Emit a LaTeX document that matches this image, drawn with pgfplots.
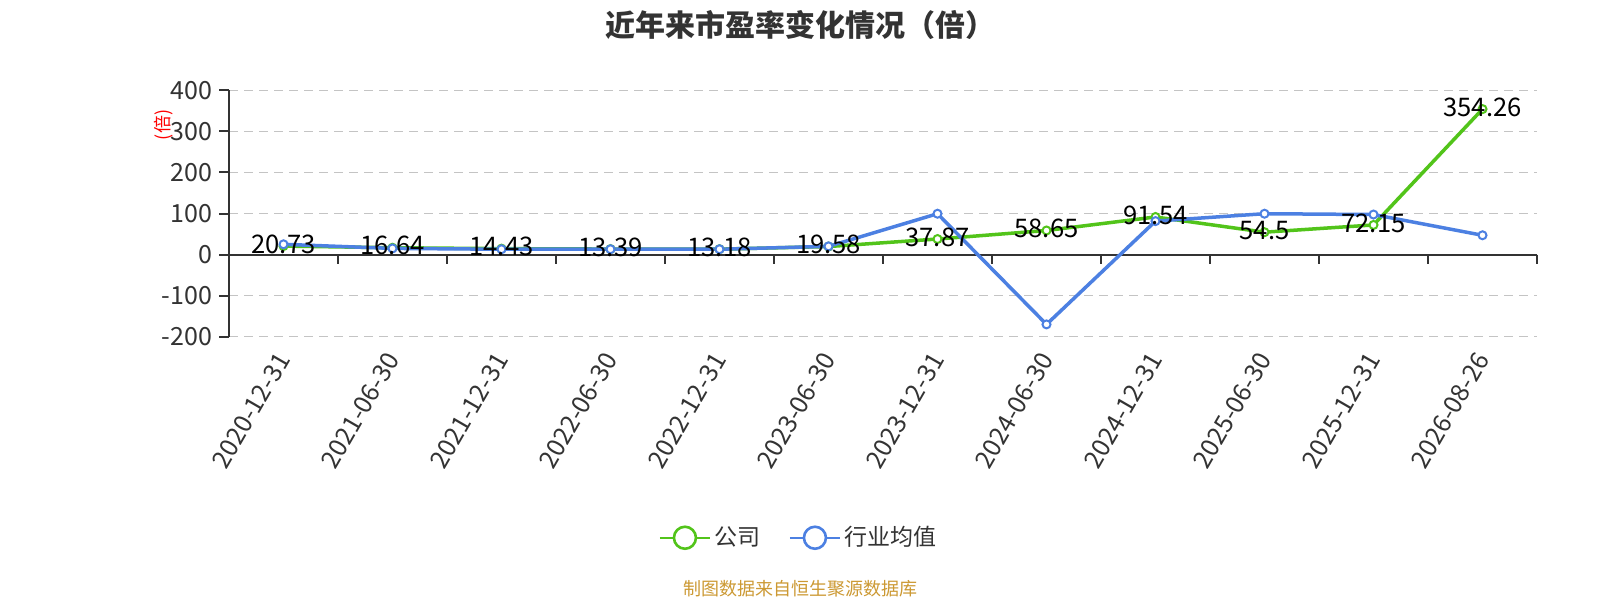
\documentclass[border=0pt]{standalone}
\usepackage{fontspec}
\setmainfont{Noto Sans CJK SC}
\usepackage{pgfplots}
\pgfplotsset{compat=1.18}
\usepackage{pgfplotstable}
\definecolor{cgreen}{RGB}{82,196,26}
\definecolor{cblue}{RGB}{76,128,226}
\definecolor{ctext}{RGB}{51,51,51}
\definecolor{cgrid}{RGB}{196,196,196}
\definecolor{cfoot}{RGB}{204,153,51}

\pgfplotstableread{
x company industry label
0 20.73 25 20.73
1 16.64 15 16.64
2 14.43 13 14.43
3 13.39 13 13.39
4 13.18 13 13.18
5 19.58 20 19.58
6 37.87 99.5 37.87
7 58.65 -170 58.65
8 91.54 81.5 91.54
9 54.5 99.5 54.5
10 72.15 97.5 72.15
11 354.26 47 354.26
}\data

\begin{document}
\begin{tikzpicture}
\path[use as bounding box, fill=white] (0,0) rectangle (800pt,300pt);
\begin{axis}[
  at={(114.5pt,131.65pt)}, anchor=south west, scale only axis,
  width=654pt, height=123.2pt,
  xmin=-0.5, xmax=11.5, ymin=-200, ymax=400,
  axis y line*=left, axis x line*=bottom,
  x axis line style={draw=none},
  y axis line style={ctext, line width=1pt, -},
  xtick={0,...,11},
  xticklabels={2020-12-31,2021-06-30,2021-12-31,2022-06-30,2022-12-31,2023-06-30,2023-12-31,2024-06-30,2024-12-31,2025-06-30,2025-12-31,2026-08-26},
  xtick style={draw=none},
  ytick={-200,-100,...,400},
  ytick style={ctext, line width=1pt},
  tick align=outside, major tick length=5pt,
  ymajorgrids, grid style={cgrid, line width=0.75pt, dash pattern=on 4.5pt off 3pt},
  /pgf/number format/assume math mode=true,
  ticklabel style={font=\fontsize{12.5}{14}\selectfont, text=ctext},
  xticklabel style={rotate=60, anchor=east, inner sep=0pt},
  xticklabel shift=4pt,
  legend style={at={(0.4365,-0.816)}, anchor=center, draw=none, fill=none,
    legend columns=-1, font=\fontsize{11.5}{13}\selectfont, text=ctext,
    /tikz/every even column/.append style={column sep=12pt}},
  clip=false,
]
\draw[ctext, line width=1pt] (axis cs:-0.5,0) -- (axis cs:11.5,0);
\pgfplotsinvokeforeach{-0.5,0.5,...,11.5}{
  \draw[ctext, line width=1pt] (axis cs:#1,0) -- ([yshift=-4.5pt]axis cs:#1,0);
}
\addplot[cgreen, line width=1.75pt, mark=*, mark size=2pt,
  mark options={fill=white, line width=1pt},
  legend image code/.code={
    \draw[cgreen, line width=1pt] (0pt,0pt) -- (25pt,0pt);
    \draw[cgreen, line width=1.3pt, fill=white] (12.5pt,0pt) circle (5.5pt);}
  ] table[x=x, y=company] {\data};
\addlegendentry{公司}
\addplot[cblue, line width=1.75pt, mark=*, mark size=2pt,
  mark options={fill=white, line width=1pt},
  legend image code/.code={
    \draw[cblue, line width=1pt] (0pt,0pt) -- (25pt,0pt);
    \draw[cblue, line width=1.3pt, fill=white] (12.5pt,0pt) circle (5.5pt);}
  ] table[x=x, y=industry] {\data};
\addlegendentry{行业均值}
\addplot[draw=none, mark=none, forget plot, nodes near coords,
  point meta=explicit symbolic,
  every node near coord/.style={anchor=center, yshift=1pt, inner sep=0pt,
    font=\fontsize{12.8}{14}\selectfont, text=black}
  ] table[x=x, y=company, meta=label] {\data};
\end{axis}
\node[font=\fontsize{15}{17}\selectfont\bfseries, text=ctext] at (400pt,287.5pt) {近年来市盈率变化情况（倍）};
\node[rotate=90, text=red, font=\fontsize{9}{10}\selectfont] at (82pt,237.5pt) {(倍)};
\node[text=cfoot, font=\fontsize{9}{10}\selectfont] at (400pt,5.5pt) {制图数据来自恒生聚源数据库};
\end{tikzpicture}
\end{document}
